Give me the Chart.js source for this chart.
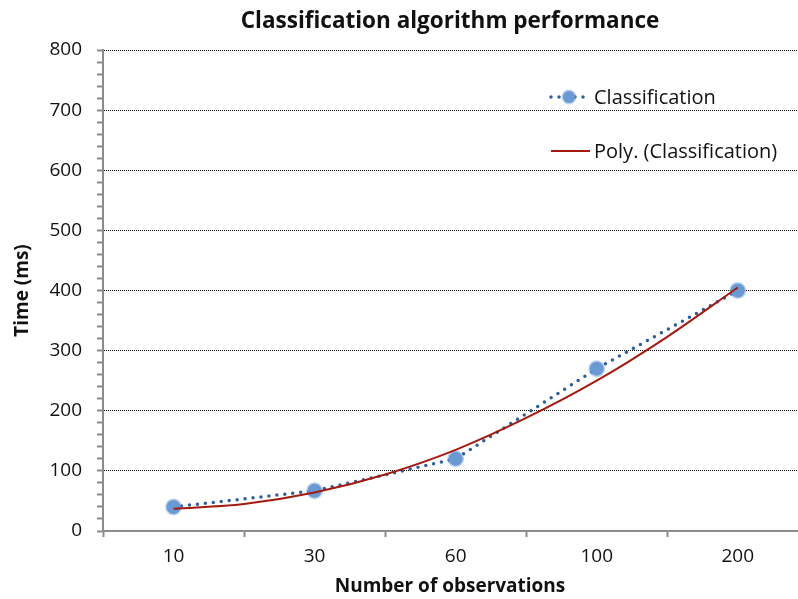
<!DOCTYPE html>
<html>
<head>
<meta charset="utf-8">
<script src="https://cdn.jsdelivr.net/npm/chart.js@4.4.1/dist/chart.umd.min.js"></script>
<style>
  body { margin: 0; background: #fff; }
</style>
</head>
<body>
<canvas id="perfChart" width="798" height="599"></canvas>
<script>
// ---- data ----
const categories = ["10", "30", "60", "100", "200"];
const classificationTimes = [40, 67, 120, 270, 400];
// polynomial trendline, read at half-category steps
const trendPos = [1, 1.5, 2, 2.5, 3, 3.5, 4, 4.5, 5];
const trendTimes = [37, 45, 64, 94, 135, 188, 250, 323, 405];

const FONT = "'Open Sans', sans-serif";
const TEXT = "#111";
const AXIS = "#8c8c8c";

function isBoundary(v) {
    return Number.isInteger(v * 2) && !Number.isInteger(v);
}

// legend drawn inside the plot area, top right
const insideLegend = {
    id: "insideLegend",
    afterDraw(chart) {
        const ctx = chart.ctx;
        const area = chart.chartArea;
        const x0 = area.right - 249;
        const rows = [area.top + 47, area.top + 101];
        const sets = chart.data.datasets;
        ctx.save();
        sets.forEach((ds, i) => {
            const y = rows[i];
            ctx.beginPath();
            ctx.strokeStyle = ds.borderColor;
            ctx.lineWidth = ds.borderWidth;
            ctx.lineCap = ds.borderCapStyle || "butt";
            ctx.setLineDash(ds.borderDash || []);
            ctx.moveTo(x0 + 3, y);
            ctx.lineTo(x0 + 42, y);
            ctx.stroke();
            ctx.setLineDash([]);
            if (ds.pointRadius > 0) {
                ctx.beginPath();
                ctx.fillStyle = ds.pointBackgroundColor;
                ctx.strokeStyle = ds.pointBorderColor;
                ctx.lineWidth = ds.pointBorderWidth;
                ctx.arc(x0 + 21, y, ds.pointRadius - 1, 0, Math.PI * 2);
                ctx.fill();
                ctx.stroke();
            }
            ctx.fillStyle = TEXT;
            ctx.font = "20px " + FONT;
            ctx.textBaseline = "middle";
            ctx.fillText(ds.label, x0 + 46, y + 1);
        });
        ctx.restore();
    }
};

const ctx = document.getElementById("perfChart").getContext("2d");
new Chart(ctx, {
    type: "line",
    data: {
        datasets: [
            {
                label: "Classification",
                data: classificationTimes.map((v, i) => ({ x: i + 1, y: v })),
                borderColor: "#2d5f9a",
                borderWidth: 3.5,
                borderDash: [0, 8],
                borderCapStyle: "round",
                pointRadius: 7,
                pointBackgroundColor: "#6a9ad4",
                pointBorderColor: "rgba(106,154,212,0.45)",
                pointBorderWidth: 3,
                tension: 0,
                order: 1
            },
            {
                label: "Poly. (Classification)",
                data: trendPos.map((p, i) => ({ x: p, y: trendTimes[i] })),
                borderColor: "#a31a10",
                borderWidth: 2,
                pointRadius: 0,
                tension: 0.4,
                cubicInterpolationMode: "monotone",
                order: 0
            }
        ]
    },
    options: {
        responsive: false,
        animation: false,
        devicePixelRatio: 1,
        layout: { autoPadding: false, padding: { left: 0, right: 1, top: 0, bottom: 0 } },
        plugins: {
            legend: { display: false },
            tooltip: { enabled: false },
            title: {
                display: true,
                fullSize: false,
                text: "Classification algorithm performance",
                color: TEXT,
                font: { family: FONT, size: 22.5, weight: "bold" },
                padding: { top: 8, bottom: 15 }
            }
        },
        scales: {
            x: {
                type: "linear",
                min: 0.5,
                max: 5.42,
                afterBuildTicks: (scale) => {
                    const t = [];
                    for (let v = 0.5; v <= 5.0001; v += 0.5) t.push({ value: v });
                    t.push({ value: scale.max });
                    scale.ticks = t;
                },
                afterFit: (scale) => {
                    scale.height = 68;
                    scale.paddingLeft = 0;
                    scale.paddingRight = 0;
                },
                ticks: {
                    autoSkip: false,
                    maxRotation: 0,
                    padding: 8,
                    color: TEXT,
                    font: { family: FONT, size: 19 },
                    callback: (v) => Number.isInteger(v) ? categories[v - 1] : ""
                },
                grid: {
                    drawOnChartArea: false,
                    tickLength: 6,
                    tickWidth: 2,
                    tickColor: (c) => (c.tick && isBoundary(c.tick.value)) ? AXIS : "rgba(0,0,0,0)"
                },
                border: { color: AXIS, width: 2 },
                title: {
                    display: true,
                    text: "Number of observations",
                    color: TEXT,
                    font: { family: FONT, size: 19, weight: "bold" },
                    padding: { top: 0, bottom: 1 }
                }
            },
            y: {
                min: 0,
                max: 800,
                afterFit: (scale) => {
                    scale.width = 103;
                    scale.paddingLeft = 0;
                    scale.paddingRight = 0;
                },
                ticks: {
                    stepSize: 20,
                    autoSkip: false,
                    padding: 15,
                    color: TEXT,
                    font: { family: FONT, size: 19 },
                    callback: (v) => v % 100 === 0 ? v : ""
                },
                grid: {
                    color: (c) => (c.tick && c.tick.value % 100 === 0 && c.tick.value > 0) ? "#000" : "rgba(0,0,0,0)",
                    lineWidth: 1,
                    tickLength: 6,
                    tickWidth: 2,
                    tickColor: AXIS
                },
                border: { color: AXIS, width: 2, dash: [1, 1] },
                title: {
                    display: true,
                    text: "Time (ms)",
                    color: TEXT,
                    font: { family: FONT, size: 19, weight: "bold" },
                    padding: { top: 11, bottom: 0 }
                }
            }
        }
    },
    plugins: [insideLegend]
});
</script>
</body>
</html>
